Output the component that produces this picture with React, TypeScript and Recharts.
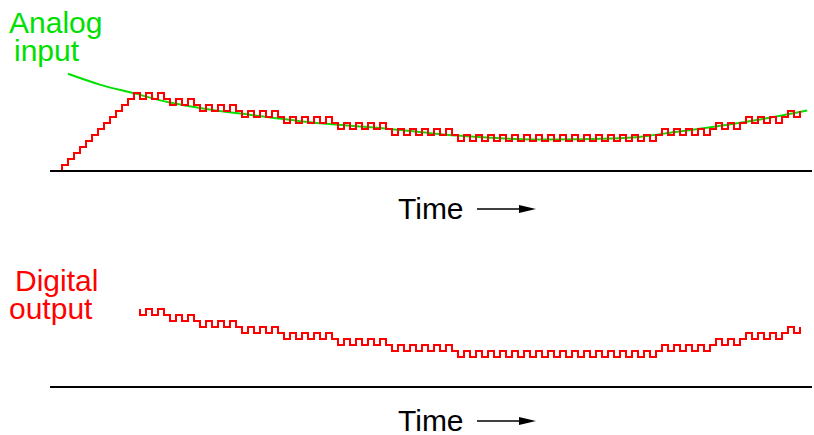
import React from "react";
import { LineChart, Line, XAxis, YAxis } from "recharts";

// digital output level per clock tick (tracking converter, +/-1 per tick)
const LEVELS = [
  1, 2, 3, 4, 5, 6, 7, 8, 9, 10, 11, 12, 13,
  12, 13, 12, 13, 12,
  11, 12, 11, 12, 11,
  10, 11, 10, 11, 10, 11, 10,
  9, 10, 9, 10, 9, 10, 9,
  8, 9, 8, 9, 8, 9, 8, 9, 8,
  7, 8, 7, 8, 7, 8, 7, 8, 7,
  6, 7, 6, 7, 6, 7, 6, 7, 6, 7, 6,
  5, 6, 5, 6, 5, 6, 5, 6, 5, 6, 5, 6, 5, 6, 5, 6, 5,
  6, 5, 6, 5, 6, 5, 6, 5, 6, 5, 6, 5, 6, 5, 6, 5, 6,
  7, 6, 7, 6, 7, 6, 7, 6, 7,
  8, 7, 8, 7, 8,
  9, 8, 9, 8, 9, 8, 9,
  10, 9, 10,
];

// analog input, in clock ticks / level units
const ANALOG_T = [1, 6.3, 12.2, 18, 23.5, 31.8, 39.7, 46, 53.8, 60.5, 65.8, 73, 81.3, 91.7, 97.2, 102.2, 107.5, 115.8, 124.2];
const ANALOG_V = [16.2, 14.4, 12.9, 11.4, 10.4, 9.3, 8.3, 7.7, 7.1, 6.4, 5.9, 5.45, 5.25, 5.4, 5.8, 6.5, 7.2, 8.5, 10.1];

// the output plot starts where the ramp has caught up
const OUTPUT_START = 13;

const RED = "#ff0000";
const GREEN = "#00e000";
const FONT = "'Liberation Sans', Arial, Helvetica, sans-serif";

const topData = [{ t: 0, v: 0 }, ...LEVELS.map((v, i) => ({ t: i, v }))];
const bottomData = [
  { t: OUTPUT_START, v: LEVELS[OUTPUT_START - 1] },
  ...LEVELS.slice(OUTPUT_START).map((v, i) => ({ t: i + OUTPUT_START, v })),
];
const analogData = ANALOG_T.map((t, i) => ({ t, v: ANALOG_V[i] }));

function Plot({ digital, analog }: { digital: { t: number; v: number }[]; analog?: { t: number; v: number }[] }) {
  return (
    <LineChart width={814} height={180} margin={{ top: 69, right: 2, bottom: 8, left: 50 }}>
      <XAxis
        type="number"
        dataKey="t"
        domain={[-2, 125]}
        allowDataOverflow
        tick={false}
        tickLine={false}
        height={1}
        axisLine={{ stroke: "#000", strokeWidth: 2 }}
      />
      <YAxis hide type="number" domain={[0, 17]} allowDataOverflow />
      {analog && (
        <Line
          data={analog}
          dataKey="v"
          type="monotone"
          stroke={GREEN}
          strokeWidth={2}
          dot={false}
          isAnimationActive={false}
        />
      )}
      <Line
        data={digital}
        dataKey="v"
        type="stepAfter"
        stroke={RED}
        strokeWidth={2}
        dot={false}
        isAnimationActive={false}
      />
    </LineChart>
  );
}

function TimeLabel({ y }: { y: number }) {
  return (
    <g>
      <text x={398} y={y} fontSize={30} fill="#000" fontFamily={FONT}>
        Time
      </text>
      <line x1={477} y1={y - 10} x2={522} y2={y - 10} stroke="#000" strokeWidth={1.5} />
      <polygon points={`${519},${y - 14} ${536},${y - 10} ${519},${y - 6}`} fill="#000" />
    </g>
  );
}

export default function App() {
  return (
    <div style={{ position: "absolute", left: 0, top: 0, width: 814, height: 435, background: "#fff" }}>
      <div style={{ position: "absolute", left: 0, top: 0 }}>
        <Plot digital={topData} analog={analogData} />
      </div>
      <div style={{ position: "absolute", left: 0, top: 216 }}>
        <Plot digital={bottomData} />
      </div>
      <svg width={814} height={435} style={{ position: "absolute", left: 0, top: 0, pointerEvents: "none" }}>
        <text x={9} y={33} fontSize={30} fill={GREEN} fontFamily={FONT}>
          Analog
        </text>
        <text x={14} y={61} fontSize={30} fill={GREEN} fontFamily={FONT}>
          input
        </text>
        <text x={15} y={291} fontSize={30} fill={RED} fontFamily={FONT}>
          Digital
        </text>
        <text x={9} y={319} fontSize={30} fill={RED} fontFamily={FONT}>
          output
        </text>
        <TimeLabel y={219} />
        <TimeLabel y={431} />
      </svg>
    </div>
  );
}
